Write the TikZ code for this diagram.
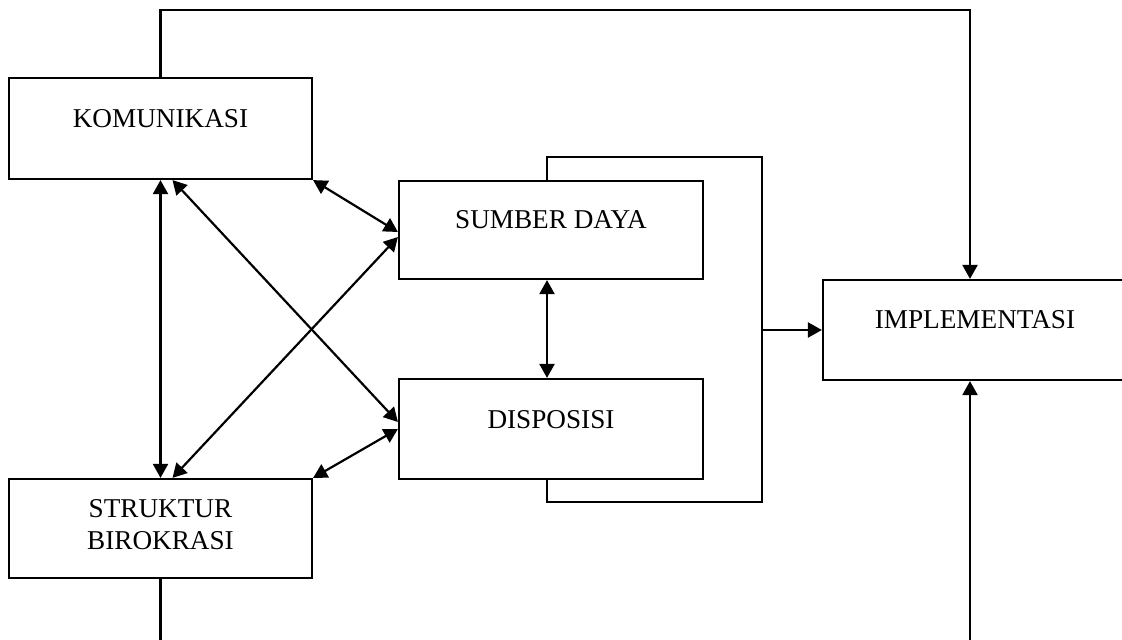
\documentclass[tikz,border=0pt]{standalone}
\usepackage{fontspec}
\setmainfont{Liberation Serif}
\usetikzlibrary{arrows.meta}

\tikzset{
  box/.style={draw, line width=1.1pt, minimum width=152pt, minimum height=50pt,
    inner sep=0pt, align=center, font=\fontsize{13.6}{16}\selectfont},
  capbox/.style={box, text height=9pt, text depth=10pt},
  link/.style={line width=1.1pt},
}

\begin{document}
\begin{tikzpicture}[x=0.5pt, y=-0.5pt, >={Triangle[length=7pt,width=7.5pt]}]
\useasboundingbox (0,0) rectangle (1122,640);
% boxes
\node[capbox, minimum width=151.5pt, minimum height=50.5pt] (kom) at (160.5,128.5) {KOMUNIKASI};
\node[capbox, minimum height=49pt] (sd) at (551,230) {SUMBER DAYA};
\node[capbox] (dis) at (551,429) {DISPOSISI};
\node[box, minimum width=151.5pt, minimum height=49.5pt, text depth=4pt] (str) at (160.5,528.5) {STRUKTUR\\BIROKRASI};
\node[capbox] (imp) at (975,330) {IMPLEMENTASI};
% corner points of the frame lines
\coordinate (top) at (970,10);
\coordinate (bot) at (970,660);
\coordinate (brtop) at (762,157);
\coordinate (brbot) at (762,502);
% outer loop
\draw[link,->] (kom.north) |- (top) -- (top |- imp.north);
\draw[link,->] (str.south) |- (bot) -- (bot |- imp.south);
% bracket round sumber daya and disposisi
\draw[link] ([xshift=-2pt]sd.north) |- (brtop) -- (brbot) -| ([xshift=-2pt]dis.south);
\draw[link,->] (brtop |- imp.west) -- (imp.west);
% links between the four factors
\draw[link,<->] (kom.south) -- (str.north);
\draw[link,<->] ([xshift=6pt]kom.south) -- ([yshift=3.5pt]dis.west);
\draw[link,<->] (kom.south east) -- ([yshift=-1pt]sd.west);
\draw[link,<->] ([xshift=6pt]str.north) -- ([yshift=-3.5pt]sd.west);
\draw[link,<->] (str.north east) -- (dis.west);
\draw[link,<->] ([xshift=-2pt]sd.south) -- ([xshift=-2pt]dis.north);
\end{tikzpicture}
\end{document}
